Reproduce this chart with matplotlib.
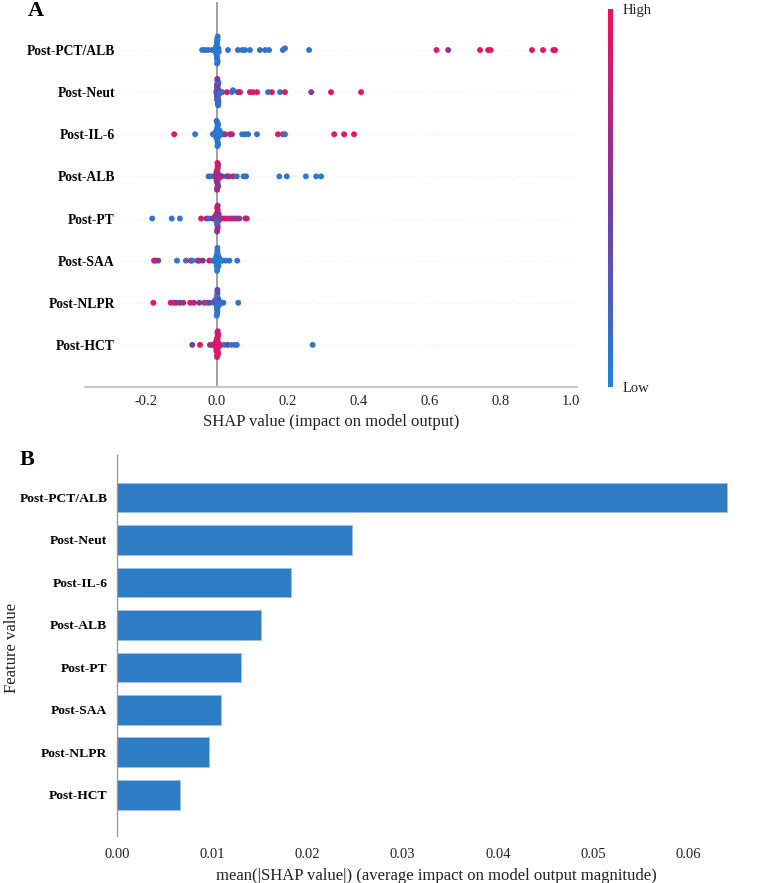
import numpy as np
import matplotlib

matplotlib.use("Agg")
import matplotlib.pyplot as plt
from matplotlib.colors import LinearSegmentedColormap
from matplotlib.cm import ScalarMappable

plt.rcParams["font.family"] = ["Liberation Serif", "DejaVu Serif"]

features = ["Post-PCT/ALB", "Post-Neut", "Post-IL-6", "Post-ALB",
            "Post-PT", "Post-SAA", "Post-NLPR", "Post-HCT"]

# panel B: mean |SHAP| per feature
mean_abs_shap = [0.0641, 0.0247, 0.0183, 0.0151, 0.0130, 0.0109, 0.0097, 0.0066]

# panel A: per-sample SHAP values and normalised feature values (0 = low, 1 = high)
pct_alb_shap = [-0.042, -0.034, -0.025, -0.014, 0.031, 0.059, 0.071, 0.079, 0.093, 0.121,
                0.136, 0.147, 0.186, 0.192, 0.260, 0.620, 0.653, 0.743, 0.766, 0.773,
                0.890, 0.921, 0.950, 0.955,
                -0.006, -0.004, -0.003, -0.002, -0.002, -0.001, -0.001, 0.000, 0.000, 0.000,
                0.000, 0.001, 0.001, 0.001, 0.002, 0.002, 0.003, 0.004, 0.005, 0.000]
pct_alb_feat = [0.12, 0.08, 0.15, 0.10, 0.12, 0.14, 0.10, 0.13, 0.09, 0.15,
                0.11, 0.08, 0.14, 0.12, 0.10, 0.92, 0.62, 0.95, 0.90, 0.97,
                0.94, 0.98, 0.96, 1.00,
                0.05, 0.08, 0.02, 0.10, 0.06, 0.03, 0.12, 0.07, 0.04, 0.09,
                0.11, 0.05, 0.08, 0.02, 0.06, 0.10, 0.07, 0.13, 0.04, 0.09]

neut_shap = [0.008, 0.015, 0.028, 0.042, 0.045, 0.059, 0.065, 0.093, 0.102, 0.113,
             0.144, 0.155, 0.178, 0.192, 0.266, 0.322, 0.407,
             -0.002, -0.001, -0.001, 0.000, 0.000, 0.000, 0.000, 0.001, 0.001, 0.001,
             0.001, 0.002, 0.002, 0.002, 0.003, 0.003, 0.004, 0.004, 0.005, 0.006,
             0.000, 0.001, 0.002, 0.000, 0.001, 0.003, 0.010]
neut_feat = [0.10, 0.12, 0.95, 0.08, 0.12, 0.55, 0.78, 0.95, 0.90, 0.96,
             0.10, 0.93, 0.12, 0.95, 0.62, 0.96, 0.98,
             0.10, 0.45, 0.12, 0.50, 0.08, 0.40, 0.15, 0.55, 0.10, 0.45,
             0.12, 0.35, 0.08, 0.50, 0.15, 0.42, 0.10, 0.30, 0.48, 0.12,
             0.55, 0.09, 0.40, 0.14, 0.52, 0.11, 0.10]

il6_shap = [-0.121, -0.062, -0.012, 0.018, 0.023, 0.037, 0.042, 0.071, 0.079, 0.088,
            0.113, 0.172, 0.186, 0.192, 0.331, 0.359, 0.387,
            -0.008, -0.005, -0.004, -0.003, -0.002, -0.002, -0.001, -0.001, 0.000, 0.000,
            0.000, 0.000, 0.001, 0.001, 0.001, 0.002, 0.002, 0.003, 0.003, 0.004,
            0.005, 0.006, 0.008, 0.000, 0.001, -0.001, 0.010]
il6_feat = [0.95, 0.10, 0.12, 0.10, 0.60, 0.92, 0.70, 0.08, 0.12, 0.10,
            0.09, 0.93, 0.80, 0.10, 0.95, 0.97, 0.98,
            0.08, 0.05, 0.12, 0.03, 0.10, 0.06, 0.14, 0.09, 0.04, 0.11,
            0.07, 0.13, 0.02, 0.10, 0.06, 0.12, 0.08, 0.05, 0.15, 0.09,
            0.03, 0.11, 0.07, 0.10, 0.06, 0.12, 0.08]

alb_shap = [-0.024, -0.018, 0.008, 0.014, 0.027, 0.034, 0.045, 0.056, 0.075, 0.082,
            0.176, 0.197, 0.251, 0.280, 0.294,
            -0.006, -0.004, -0.003, -0.002, -0.002, -0.001, -0.001, -0.001, 0.000, 0.000,
            0.000, 0.000, 0.000, 0.001, 0.001, 0.001, 0.001, 0.002, 0.002, 0.002,
            0.003, 0.003, 0.004, 0.005, 0.006, 0.000, 0.001, -0.001, 0.000]
alb_feat = [0.10, 0.12, 0.95, 0.50, 0.55, 0.45, 0.90, 0.15, 0.10, 0.12,
            0.08, 0.10, 0.06, 0.09, 0.07,
            0.60, 0.75, 0.50, 0.80, 0.65, 0.45, 0.85, 0.55, 0.70, 0.60,
            0.78, 0.50, 0.68, 0.82, 0.58, 0.72, 0.48, 0.88, 0.62, 0.76,
            0.52, 0.66, 0.80, 0.57, 0.74, 0.63, 0.90, 0.55, 0.70]

pt_shap = [-0.183, -0.128, -0.105, -0.045, -0.030, -0.022, -0.012, 0.015, 0.023, 0.034,
           0.042, 0.050, 0.056, 0.063, 0.080, 0.084,
           -0.008, -0.006, -0.004, -0.003, -0.002, -0.002, -0.001, -0.001, 0.000, 0.000,
           0.000, 0.000, 0.001, 0.001, 0.001, 0.002, 0.002, 0.003, 0.003, 0.004,
           0.005, 0.006, 0.008, 0.000, 0.001, -0.001, 0.002, 0.000]
pt_feat = [0.10, 0.12, 0.08, 0.95, 0.45, 0.20, 0.50, 0.92, 0.80, 0.95,
           0.78, 0.50, 0.82, 0.45, 0.96, 0.80,
           0.55, 0.85, 0.45, 0.95, 0.60, 0.40, 0.80, 0.50, 0.90, 0.65,
           0.45, 0.75, 0.55, 0.92, 0.48, 0.70, 0.85, 0.20, 0.60, 0.95,
           0.50, 0.78, 0.42, 0.88, 0.58, 0.15, 0.72, 0.52]

saa_shap = [-0.178, -0.174, -0.166, -0.113, -0.088, -0.074, -0.070, -0.055, -0.050, -0.040,
            -0.022, -0.012, 0.015, 0.025, 0.035, 0.057,
            -0.008, -0.006, -0.004, -0.003, -0.002, -0.002, -0.001, -0.001, 0.000, 0.000,
            0.000, 0.000, 0.000, 0.001, 0.001, 0.001, 0.002, 0.002, 0.003, 0.003,
            0.004, 0.005, 0.006, 0.008, 0.000, 0.001, -0.001, 0.010]
saa_feat = [0.95, 0.80, 0.45, 0.10, 0.12, 0.80, 0.15, 0.45, 0.78, 0.50,
            0.95, 0.10, 0.10, 0.12, 0.08, 0.10,
            0.08, 0.05, 0.12, 0.03, 0.10, 0.06, 0.14, 0.09, 0.04, 0.11,
            0.07, 0.13, 0.02, 0.10, 0.06, 0.12, 0.08, 0.05, 0.15, 0.09,
            0.03, 0.11, 0.07, 0.10, 0.06, 0.12, 0.08, 0.04]

nlpr_shap = [-0.180, -0.131, -0.121, -0.115, -0.105, -0.095, -0.076, -0.065, -0.050, -0.036,
             -0.028, -0.020, 0.012, 0.018, 0.060,
             -0.008, -0.006, -0.004, -0.003, -0.002, -0.002, -0.001, -0.001, 0.000, 0.000,
             0.000, 0.000, 0.000, 0.001, 0.001, 0.001, 0.002, 0.002, 0.003, 0.003,
             0.004, 0.005, 0.006, 0.008, 0.000, 0.001, -0.001, 0.002, 0.010]
nlpr_feat = [0.95, 0.93, 0.80, 0.45, 0.78, 0.50, 0.95, 0.80, 0.45, 0.92,
             0.15, 0.45, 0.10, 0.12, 0.10,
             0.10, 0.40, 0.08, 0.45, 0.12, 0.06, 0.35, 0.10, 0.05, 0.42,
             0.09, 0.14, 0.38, 0.07, 0.11, 0.45, 0.04, 0.10, 0.30, 0.08,
             0.12, 0.40, 0.06, 0.09, 0.13, 0.36, 0.05, 0.11, 0.10]

hct_shap = [-0.070, -0.048, -0.020, -0.012, 0.008, 0.020, 0.030, 0.040, 0.050, 0.056,
            0.270,
            -0.006, -0.005, -0.004, -0.003, -0.003, -0.002, -0.002, -0.001, -0.001, -0.001,
            0.000, 0.000, 0.000, 0.000, 0.000, 0.001, 0.001, 0.001, 0.001, 0.002,
            0.002, 0.002, 0.003, 0.003, 0.004, 0.005, 0.006, 0.000, 0.001, -0.001,
            0.000, 0.002, -0.002]
hct_feat = [0.45, 0.95, 0.50, 0.80, 0.10, 0.12, 0.45, 0.10, 0.12, 0.08,
            0.10,
            0.85, 0.95, 0.75, 0.90, 1.00, 0.80, 0.92, 0.70, 0.88, 0.97,
            0.82, 0.94, 0.78, 0.99, 0.86, 0.72, 0.93, 0.84, 0.96, 0.76,
            0.89, 0.98, 0.81, 0.91, 0.74, 0.95, 0.87, 0.79, 0.92, 0.83,
            0.97, 0.77, 0.90]

shap_rows = [pct_alb_shap, neut_shap, il6_shap, alb_shap, pt_shap, saa_shap, nlpr_shap, hct_shap]
feat_rows = [pct_alb_feat, neut_feat, il6_feat, alb_feat, pt_feat, saa_feat, nlpr_feat, hct_feat]

shap_ticks = [-0.2, 0.0, 0.2, 0.4, 0.6, 0.8, 1.0]
bar_ticks = [0.00, 0.01, 0.02, 0.03, 0.04, 0.05, 0.06]

W, H = 759, 883
cmap = LinearSegmentedColormap.from_list("red_blue", ["#1e82d8", "#7b3a9a", "#f2105a"])


def beeswarm_offsets(vals, row_height=0.4, nbins=100):
    vals = np.asarray(vals, dtype=float)
    quant = np.round(nbins * (vals - vals.min()) / (vals.max() - vals.min() + 1e-8))
    inds = np.argsort(quant, kind="stable")
    ys = np.zeros(len(vals))
    layer = 0
    last_bin = -1
    for ind in inds:
        if quant[ind] != last_bin:
            layer = 0
        ys[ind] = np.ceil(layer / 2) * ((layer % 2) * 2 - 1)
        layer += 1
        last_bin = quant[ind]
    ys *= 0.9 * (row_height / np.max(ys + 1))
    return ys


def px_axes(left, top, right, bottom):
    return [left / W, 1 - bottom / H, (right - left) / W, (bottom - top) / H]


fig = plt.figure(figsize=(W / 100, H / 100), dpi=100)

# ---- panel A: beeswarm ----
ax1 = fig.add_axes(px_axes(85, 2, 577, 387))
n = len(features)
for i, (vals, feat) in enumerate(zip(shap_rows, feat_rows)):
    assert len(vals) == len(feat)
    pos = n - 1 - i
    ax1.plot([-0.266, 1.017], [pos, pos], color="#cccccc", lw=0.5, dashes=(1, 5), zorder=-1)
    ys = beeswarm_offsets(vals)
    ax1.scatter(vals, pos + ys, c=feat, cmap=cmap, vmin=0, vmax=1, s=18,
                linewidth=0, zorder=3)
ax1.axvline(0, color="#999999", lw=1.3, zorder=-1)
ax1.set_xlim(-0.373, 1.017)
ax1.set_ylim(-1, 8.14)
for side in ["top", "right", "left"]:
    ax1.spines[side].set_visible(False)
ax1.spines["bottom"].set_color("#c4c4c4")
ax1.spines["bottom"].set_linewidth(1.3)
ax1.set_xticks(shap_ticks)
ax1.set_xticklabels([f"{t:.1f}" for t in shap_ticks])
ax1.set_yticks(range(n))
ax1.set_yticklabels(features[::-1], fontweight="bold", fontsize=9.8)
ax1.tick_params(axis="x", length=0, pad=6, labelsize=10.5, labelcolor="#222222")
ax1.tick_params(axis="y", length=0, pad=-21.6)
fig.text(331 / W, 1 - 422 / H, "SHAP value (impact on model output)",
         ha="center", va="center", fontsize=12, color="#222222")

cax = fig.add_axes(px_axes(608, 9, 612.5, 387))
sm = ScalarMappable(cmap=cmap)
sm.set_array([0, 1])
cb = fig.colorbar(sm, cax=cax, ticks=[0, 1])
cb.set_ticklabels(["Low", "High"])
cb.outline.set_visible(False)
cb.ax.tick_params(length=0, pad=7, labelsize=10.5, labelcolor="#222222")

fig.text(36 / W, 1 - 11 / H, "A", ha="center", va="center", fontsize=16, fontweight="bold")

# ---- panel B: mean |SHAP| bars ----
ax2 = fig.add_axes(px_axes(117, 455, 745, 836))
bar_pos = np.arange(n)[::-1]
ax2.barh(bar_pos, mean_abs_shap, height=0.7, color="#2e7cc3",
         edgecolor="#9cc3e8", linewidth=0.6)
ax2.set_xlim(0, (745 - 117) / 9520)
ax2.set_ylim(-0.97, 8.0)
for side in ["top", "right", "bottom"]:
    ax2.spines[side].set_visible(False)
ax2.spines["left"].set_color("#999999")
ax2.spines["left"].set_linewidth(1.0)
ax2.set_xticks(bar_ticks)
ax2.set_xticklabels([f"{t:.2f}" for t in bar_ticks])
ax2.set_yticks(bar_pos)
ax2.set_yticklabels(features, fontweight="bold", fontsize=9.7)
ax2.tick_params(axis="x", length=0, pad=9, labelsize=10.5, labelcolor="#222222")
ax2.tick_params(axis="y", length=0, pad=7)
fig.text(436 / W, 1 - 876 / H,
         "mean(|SHAP value|) (average impact on model output magnitude)",
         ha="center", va="center", fontsize=12, color="#222222")
fig.text(12 / W, 1 - 648 / H, "Feature value", rotation=90,
         ha="center", va="center", fontsize=12, color="#222222")
fig.text(27 / W, 1 - 460 / H, "B", ha="center", va="center", fontsize=16, fontweight="bold")

fig.savefig("out.png", dpi=100)
